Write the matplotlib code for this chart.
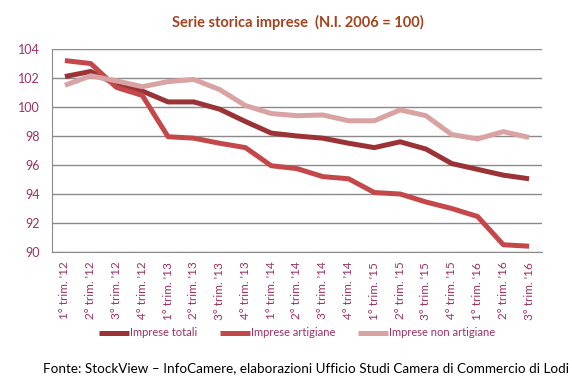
import matplotlib.pyplot as plt

quarters = ["1° trim. '12", "2° trim. '12", "3° trim. '12", "4° trim. '12",
            "1° trim. '13", "2° trim. '13", "3° trim. '13", "4° trim. '13",
            "1° trim. '14", "2° trim. '14", "3° trim. '14", "4° trim. '14",
            "1° trim. '15", "2° trim. '15", "3° trim. '15", "4° trim. '15",
            "1° trim. '16", "2° trim. '16", "3° trim. '16"]
totali = [102.1, 102.45, 101.55, 101.1, 100.35, 100.35, 99.85, 99.0, 98.2, 98.0,
          97.85, 97.5, 97.2, 97.6, 97.1, 96.1, 95.7, 95.3, 95.05]
artigiane = [103.2, 103.0, 101.35, 100.8, 97.95, 97.85, 97.5, 97.2, 95.95, 95.75,
             95.2, 95.05, 94.1, 94.0, 93.45, 93.0, 92.45, 90.5, 90.4]
non_artigiane = [101.5, 102.15, 101.8, 101.4, 101.75, 101.9, 101.2, 100.1, 99.55, 99.4,
                 99.45, 99.05, 99.05, 99.8, 99.4, 98.1, 97.8, 98.3, 97.9]

plt.rcParams['font.family'] = ['Lato', 'DejaVu Sans']
tick_col = "#9e2f63"

fig = plt.figure(figsize=(5.72, 3.88), dpi=100)
ax = fig.add_axes([52/572, 1-252/388, 490/572, 203/388])

x = range(len(quarters))
ax.plot(x, totali, color="#9b3336", lw=3.6, label="Imprese totali", solid_capstyle="butt")
ax.plot(x, artigiane, color="#c4484a", lw=3.6, label="Imprese artigiane", solid_capstyle="butt")
ax.plot(x, non_artigiane, color="#d9a3a4", lw=3.6, label="Imprese non artigiane", solid_capstyle="butt")

ax.set_xlim(-0.5, len(quarters) - 0.5)
ax.set_ylim(90, 104)
ax.set_yticks(range(90, 105, 2))
ax.set_xticks(list(x))
ax.set_xticklabels(quarters, rotation=90, fontsize=8.5, color=tick_col)
ax.tick_params(axis="y", labelsize=9, labelcolor=tick_col, length=0, pad=9)
ax.tick_params(axis="x", length=0, pad=7)
ax.grid(axis="y", color="#8a8a8a", lw=1)
ax.set_axisbelow(True)
for s in ["top", "right"]:
    ax.spines[s].set_visible(False)
ax.spines["left"].set_color("#8a8a8a")
ax.spines["bottom"].set_color("#8a8a8a")

fig.text(298/572, 1-22/388, "Serie storica imprese  (N.I. 2006 = 100)", ha="center", va="center",
         fontsize=10.5, fontweight="bold", color="#a5421d")

leg = fig.legend(loc="center", bbox_to_anchor=(297/572, 1-333/388), ncol=3, frameon=False,
                 fontsize=8, handlelength=2.7, handletextpad=0.1, columnspacing=2.0)
for t in leg.get_texts():
    t.set_color(tick_col)

fig.text(306/572, 1-368/388, "Fonte: StockView – InfoCamere, elaborazioni Ufficio Studi Camera di Commercio di Lodi",
         ha="center", va="center", fontsize=9.7, color="black")

fig.savefig("out.png", dpi=100)
